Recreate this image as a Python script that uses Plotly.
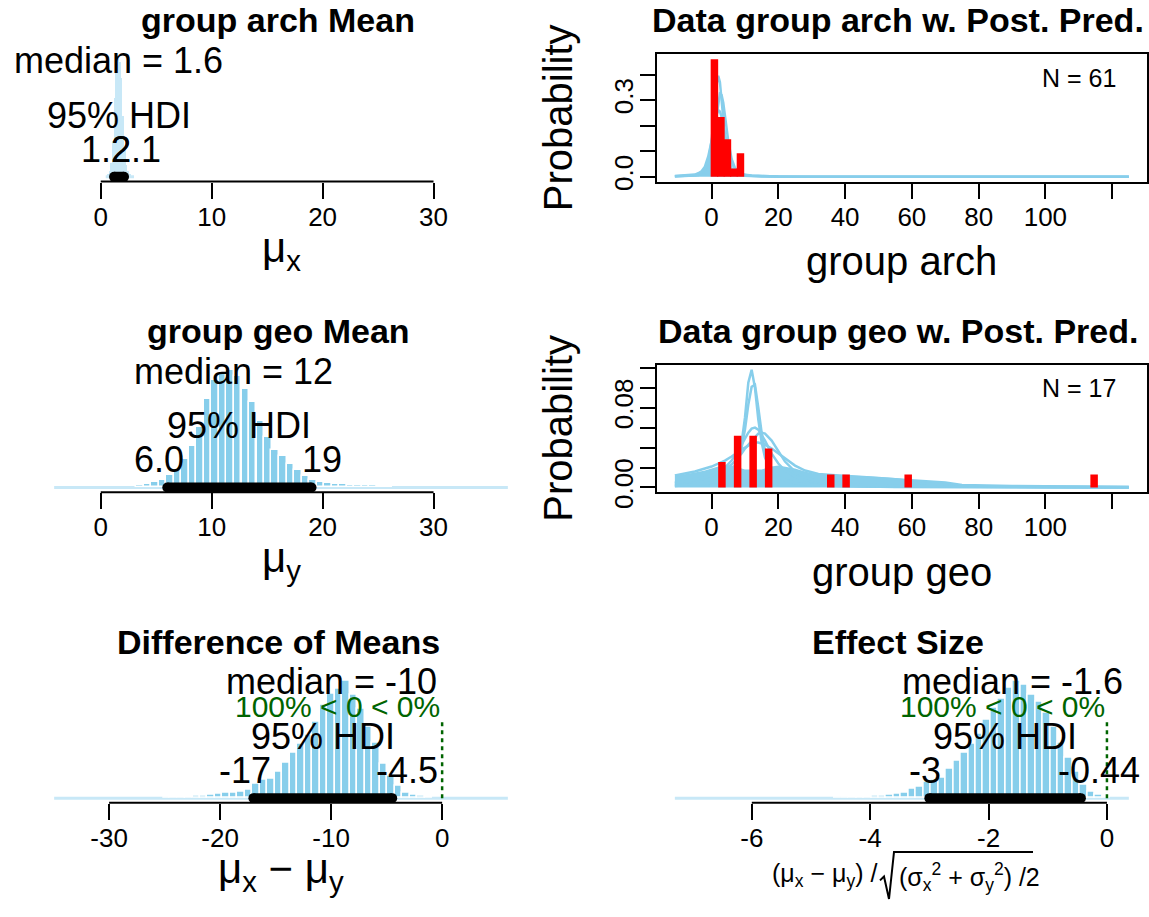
import plotly.graph_objects as go

# ---------------------------------------------------------------- data
# Posterior of the group "arch" mean (mu_x): histogram of MCMC draws
mu_x_mids = [0.675, 0.825, 0.975, 1.125, 1.275, 1.425, 1.575, 1.725, 1.875,
             2.025, 2.175, 2.325, 2.475, 2.625]
mu_x_freq = [2, 5, 14, 36, 80, 112, 120, 117, 100, 62, 28, 12, 5, 2]
mu_x_span = [0.45, 3.0]
mu_x_median = "1.6"
mu_x_hdi = ["1.2", "2.1"]

# Posterior of the group "geo" mean (mu_y)
mu_y_mids = [3.55, 4.23, 4.90, 5.58, 6.26, 6.93, 7.61, 8.29, 8.96, 9.64,
             10.32, 11.00, 11.67, 12.35, 13.03, 13.70, 14.38, 15.06, 15.73,
             16.41, 17.09, 17.77, 18.44, 19.12, 19.80, 20.47, 21.15, 21.83,
             22.50, 23.18, 23.86, 24.54, 25.21, 25.89]
mu_y_freq = [2, 3, 5, 8, 13, 18, 28.7, 42.5, 62, 90, 110, 116, 120, 114, 100,
             87, 68, 51.5, 38.5, 32, 24, 17.5, 11.7, 8, 5.5, 4, 3.5, 3, 2.5,
             2.5, 2, 2, 1.5, 1.5]
mu_y_span = [-4.2, 36.7]
mu_y_median = "12"
mu_y_hdi = ["6.0", "19"]

# Difference of means (mu_x - mu_y)
diff_mids = [-24.85, -24.18, -23.50, -22.83, -22.15, -21.48, -20.80, -20.13,
             -19.45, -18.78, -18.10, -17.43, -16.75, -16.08, -15.40, -14.73,
             -14.05, -13.38, -12.70, -12.03, -11.35, -10.68, -10.00, -9.33,
             -8.65, -7.98, -7.30, -6.63, -5.95, -5.28, -4.60, -3.93, -3.25,
             -2.58, -1.90, -1.23]
diff_freq = [0.8, 1, 1.2, 1.5, 2, 2.5, 3, 4, 5, 5.5, 6.6, 8.3, 15, 18.3, 20,
             26.6, 36, 46, 55, 65, 78, 95, 106.6, 111.6, 120, 105, 91.6, 73,
             56.6, 35, 23, 13, 5, 3, 2, 1.5]
diff_span = [-34.95, 5.92]
diff_median = "-10"
diff_hdi = ["-17", "-4.5"]
diff_pct = ["100", "0"]

# Effect size
es_mids = [-4.549, -4.423, -4.297, -4.171, -4.045, -3.919, -3.793, -3.667,
           -3.541, -3.415, -3.289, -3.163, -3.037, -2.911, -2.785, -2.659,
           -2.533, -2.407, -2.281, -2.155, -2.029, -1.903, -1.777, -1.651,
           -1.525, -1.399, -1.273, -1.147, -1.021, -0.895, -0.769, -0.643,
           -0.517, -0.391, -0.265, -0.139, -0.013]
es_freq = [0.8, 0.8, 1, 1.2, 1.5, 2, 2.5, 3, 4, 5, 9.3, 11.7, 17, 19, 20.6,
           30, 38.3, 46, 55, 66, 80, 92, 101, 113, 120, 116, 105, 98, 86.6,
           73.3, 56.6, 41.6, 26.6, 13.3, 6.6, 3.3, 1.5]
es_span = [-7.3, 0.37]
es_median = "-1.6"
es_hdi = ["-3", "-0.44"]
es_pct = ["100", "0"]
comp_value = 0

# Posterior predictive curves and data, group arch (N = 61)
arch_x = [-11, -8, -6, -5, -4, -3, -2, -1, 0, 1, 1.5, 2, 2.5, 3, 3.5, 4, 5, 6,
          7, 8, 10, 12, 15, 20, 30, 50, 80, 125]
arch_curves = [
    [0.001, 0.002, 0.003, 0.004, 0.006, 0.011, 0.025, 0.06, 0.14, 0.29, 0.36,
     0.395, 0.37, 0.3, 0.23, 0.16, 0.07, 0.032, 0.016, 0.009, 0.004, 0.0025,
     0.0015, 0.0008, 0.0004, 0.0002, 0.0001, 0.0001],
    [0.002, 0.003, 0.004, 0.006, 0.009, 0.015, 0.03, 0.06, 0.11, 0.2, 0.25,
     0.295, 0.325, 0.32, 0.29, 0.24, 0.14, 0.07, 0.035, 0.018, 0.007, 0.004,
     0.0025, 0.0012, 0.0005, 0.0002, 0.0001, 0.0001],
    [0.003, 0.005, 0.007, 0.009, 0.014, 0.022, 0.04, 0.08, 0.14, 0.21, 0.245,
     0.26, 0.255, 0.235, 0.2, 0.165, 0.1, 0.055, 0.03, 0.018, 0.008, 0.005,
     0.003, 0.0015, 0.0007, 0.0003, 0.0002, 0.0001],
]
arch_band = [0.0015, 0.0025, 0.0035, 0.005, 0.007, 0.011, 0.024, 0.055, 0.1,
             0.18, 0.2, 0.2, 0.2, 0.19, 0.17, 0.14, 0.08, 0.04, 0.02, 0.012,
             0.005, 0.003, 0.002, 0.001, 0.0005, 0.0003, 0.0002, 0.0001]
arch_mids = [0.85, 2.8, 4.75, 6.7, 8.65]
arch_prob = [0.46, 0.234, 0.147, 0.033, 0.092]
arch_n = 61

# Posterior predictive curves and data, group geo (N = 17)
geo_x = [-11, -8, -5, -2, 0, 2, 4, 6, 8, 9, 10, 11, 12, 13, 14, 15, 16, 18,
         20, 22, 25, 28, 32, 36, 40, 45, 50, 55, 60, 65, 70, 75, 80, 90, 100,
         110, 125]
geo_curves = [
    [0.0015, 0.002, 0.0025, 0.0035, 0.0045, 0.006, 0.009, 0.015, 0.03, 0.045,
     0.07, 0.105, 0.118, 0.1, 0.068, 0.045, 0.03, 0.016, 0.0095, 0.0065,
     0.004, 0.003, 0.002, 0.0015, 0.0012, 0.001, 0.0008, 0.0006, 0.0005,
     0.0004, 0.0004, 0.0003, 0.0003, 0.0002, 0.0002, 0.0001, 0.0001],
    [0.002, 0.0025, 0.003, 0.004, 0.005, 0.007, 0.01, 0.016, 0.028, 0.04,
     0.058, 0.083, 0.101, 0.103, 0.08, 0.055, 0.037, 0.019, 0.011, 0.0075,
     0.0045, 0.003, 0.0022, 0.0017, 0.0013, 0.001, 0.0008, 0.0007, 0.0006,
     0.0005, 0.0004, 0.0004, 0.0003, 0.0003, 0.0002, 0.0002, 0.0001],
    [0.004, 0.005, 0.007, 0.009, 0.012, 0.015, 0.02, 0.027, 0.037, 0.043,
     0.049, 0.055, 0.059, 0.06, 0.058, 0.053, 0.047, 0.034, 0.024, 0.017,
     0.011, 0.0075, 0.005, 0.0038, 0.003, 0.0023, 0.0018, 0.0015, 0.0012,
     0.001, 0.0009, 0.0008, 0.0007, 0.0005, 0.0004, 0.0003, 0.0003],
    [0.005, 0.006, 0.008, 0.01, 0.012, 0.015, 0.018, 0.023, 0.03, 0.034,
     0.039, 0.043, 0.047, 0.051, 0.054, 0.055, 0.054, 0.047, 0.036, 0.026,
     0.016, 0.01, 0.0065, 0.0048, 0.0037, 0.0028, 0.0022, 0.0018, 0.0015,
     0.0012, 0.001, 0.0009, 0.0008, 0.0006, 0.0005, 0.0004, 0.0003],
    [0.012, 0.014, 0.016, 0.019, 0.021, 0.024, 0.027, 0.031, 0.036, 0.038,
     0.04, 0.042, 0.044, 0.045, 0.045, 0.044, 0.043, 0.039, 0.034, 0.029,
     0.022, 0.017, 0.0135, 0.0125, 0.0118, 0.011, 0.0095, 0.0082, 0.007,
     0.006, 0.005, 0.0025, 0.002, 0.0015, 0.0012, 0.001, 0.0008],
]
geo_band = [0.0115, 0.013, 0.015, 0.017, 0.019, 0.021, 0.022, 0.022, 0.02,
            0.019, 0.018, 0.018, 0.018, 0.018, 0.018, 0.018, 0.019, 0.021,
            0.022, 0.021, 0.019, 0.016, 0.013, 0.0125, 0.0122, 0.0115, 0.0105,
            0.0095, 0.0075, 0.006, 0.0055, 0.0025, 0.002, 0.0015, 0.0013,
            0.0011, 0.001]
geo_mids = [3.1, 7.8, 12.45, 17.1, 35.7, 40.3, 58.9, 114.6]
geo_prob = [0.0255, 0.052, 0.052, 0.039, 0.013, 0.013, 0.013, 0.013]
geo_n = 17

# axis ticks
mu_ticks = [0, 10, 20, 30]
diff_ticks = [-30, -20, -10, 0]
es_ticks = [-6, -4, -2, 0]
pp_ticks = [0, 20, 40, 60, 80, 100, 120]
pp_ticklabels = ["0", "20", "40", "60", "80", "100", ""]
arch_yticks = [0, 0.1, 0.2, 0.3, 0.4]
arch_yticklabels = ["0.0", "", "", "0.3", ""]
geo_yticks = [0, 0.02, 0.04, 0.06, 0.08, 0.10, 0.12]
geo_yticklabels = ["0.00", "", "", "", "0.08", "", ""]

# ---------------------------------------------------------------- styling
W, H = 1149, 917
FONT = "Liberation Sans"
SKY = "#87CEEB"
PALE = "#c8e8f7"
GREEN = "#006400"
ASC, DESC = 0.905, 0.212

LEFT = (36, 526)          # plot region, pixels
RIGHT = (656.7, 1147)
ROW_B = (185, 501.5, 818)  # bottom edge of each row's plot region
PANEL_H = 129.5
TITLE_X = (278, 898)

CHAR_W = {"0": .556, "1": .556, "2": .556, "3": .556, "4": .556, "5": .556,
          "6": .556, "7": .556, "8": .556, "9": .556, ".": .278, "-": .333}


def px(x):
    return x / W


def py(y):
    return 1 - y / H


def text_w(s, size):
    return sum(CHAR_W.get(c, .556) for c in s) * size


def label(text, x, baseline, size, xref="paper", xanchor="center",
          color="black", xshift=0, top=False, angle=0):
    if xref == "paper":
        x = px(x)
    if top:
        y, yanchor = baseline - ASC * size, "top"
    else:
        y, yanchor = baseline - (ASC - DESC) / 2 * size, "middle"
    return dict(text=text, x=x, xref=xref, y=py(y), yref="paper",
                xanchor=xanchor, yanchor=yanchor, showarrow=False,
                xshift=xshift, textangle=angle,
                font=dict(family=FONT, size=size, color=color))


def padded(lo, hi, f=0.04):
    d = hi - lo
    return [lo - f * d, hi + f * d]


fig = go.Figure()
axes = {}
annotations = []
shapes = []


def ids(i):
    return ("x", "y") if i == 1 else (f"x{i}", f"y{i}")


def key(a, i):
    return f"{a}axis" if i == 1 else f"{a}axis{i}"


TICKFONT = dict(family=FONT, size=26, color="black")


def hist_panel(i, col, row, mids, freq, span, xlim, ticks, median, hdi,
               title, xlab, pale_bars=False, pct=None):
    xa, ya = ids(i)
    B = ROW_B[row]
    x0, x1 = (LEFT, RIGHT)[col]
    M = max(freq)
    width = round((mids[-1] - mids[0]) / (len(mids) - 1), 4)

    shapes.append(dict(type="line", xref=xa, yref=ya, x0=span[0], x1=span[1],
                       y0=0, y1=0, layer="below",
                       line=dict(color=PALE, width=3)))
    if pale_bars:
        marker = dict(color=PALE, line=dict(width=0))
    else:
        marker = dict(color=SKY, line=dict(color="white", width=1.5))
    fig.add_trace(go.Bar(x=mids, y=freq, width=width, marker=marker,
                         xaxis=xa, yaxis=ya))
    lo, hi = float(hdi[0]), float(hdi[1])
    fig.add_trace(go.Scatter(x=[lo, hi], y=[0, 0], mode="lines+markers",
                             line=dict(color="black", width=10),
                             marker=dict(color="black", size=10),
                             xaxis=xa, yaxis=ya))
    if pct is not None:
        fig.add_trace(go.Scatter(x=[comp_value, comp_value],
                                 y=[0, 0.96 * 0.7 * M], mode="lines",
                                 line=dict(color=GREEN, width=2.5,
                                           dash="4px,4px"),
                                 xaxis=xa, yaxis=ya))
        annotations.append(label(f"{pct[0]}% < {comp_value} < {pct[1]}%",
                                 comp_value, B - 88, 30, xref=xa,
                                 xanchor="right", color=GREEN))

    axes[key("x", i)] = dict(domain=[px(x0), px(x1)], range=padded(*xlim),
                             anchor=ya, tickvals=ticks,
                             ticktext=[str(t) for t in ticks],
                             ticks="outside", ticklen=16, tickwidth=2,
                             tickcolor="black", showline=False,
                             showgrid=False, zeroline=False,
                             tickfont=TICKFONT, ticklabelstandoff=-4)
    axes[key("y", i)] = dict(domain=[py(B), py(B - PANEL_H)],
                             range=[-0.04 * M, 1.04 * M], anchor=xa,
                             visible=False)
    shapes.append(dict(type="line", xref=xa, yref=f"{ya} domain",
                       x0=ticks[0], x1=ticks[-1], y0=0, y1=0,
                       line=dict(color="black", width=2)))

    annotations.append(label(f"<b>{title}</b>", TITLE_X[col], B - 152.5, 34))
    annotations.append(label(f"median = {median}", float(median), B - 111,
                             36, xref=xa))
    annotations.append(label("95% HDI", (lo + hi) / 2, B - 55, 36, xref=xa))
    annotations.append(label(hdi[0], lo, B - 20.5, 36, xref=xa,
                             xanchor="left",
                             xshift=-0.7 * text_w(hdi[0], 36)))
    annotations.append(label(hdi[1], hi, B - 20.5, 36, xref=xa,
                             xanchor="left",
                             xshift=-0.3 * text_w(hdi[1], 36)))
    if xlab is not None:
        annotations.append(label(xlab, (x0 + x1) / 2, B + 79, 42, top=True))


def pp_panel(i, row, xs, curves, band, mids, prob, n, title, xlab,
             yticks, yticklabels):
    xa, ya = ids(i)
    B = ROW_B[row]
    M = max(max(prob), max(max(c) for c in curves))
    fig.add_trace(go.Scatter(x=xs, y=band, mode="lines", fill="tozeroy",
                             fillcolor=SKY, line=dict(width=0, color=SKY),
                             xaxis=xa, yaxis=ya))
    for c in curves:
        fig.add_trace(go.Scatter(x=xs, y=c, mode="lines",
                                 line=dict(color=SKY, width=2.5),
                                 xaxis=xa, yaxis=ya))
    sx, sy = [], []
    for m, p in zip(mids, prob):
        sx += [m, m, None]
        sy += [0, p, None]
    fig.add_trace(go.Scatter(x=sx, y=sy, mode="lines",
                             line=dict(color="red", width=7.5),
                             xaxis=xa, yaxis=ya))
    common = dict(ticks="outside", ticklen=15, tickwidth=2,
                  tickcolor="black", showline=True, linewidth=2,
                  linecolor="black", mirror=True, showgrid=False,
                  zeroline=False, tickfont=TICKFONT)
    axes[key("x", i)] = dict(domain=[px(RIGHT[0]), px(RIGHT[1])],
                             range=padded(xs[0], xs[-1]), anchor=ya,
                             tickvals=pp_ticks, ticktext=pp_ticklabels,
                             ticklabelstandoff=-4, **common)
    axes[key("y", i)] = dict(domain=[py(B), py(B - PANEL_H)],
                             range=[-0.04 * M, 1.04 * M], anchor=xa,
                             tickvals=yticks, ticktext=yticklabels,
                             tickangle=-90, ticklabelstandoff=-4, **common)
    annotations.append(label(f"<b>{title}</b>", TITLE_X[1], B - 152.5, 34))
    annotations.append(label(f"N = {n}", 1118, B - 97, 25, xanchor="right"))
    annotations.append(label(xlab, (RIGHT[0] + RIGHT[1]) / 2, B + 95, 40))
    annotations.append(label("Probability", 558, B - PANEL_H / 2 + 14, 40,
                             angle=-90))


mu_xlim = [min(mu_x_span[0], mu_y_span[0]), max(mu_x_span[1], mu_y_span[1])]

hist_panel(1, 0, 0, mu_x_mids, mu_x_freq, mu_x_span, mu_xlim, mu_ticks,
           mu_x_median, mu_x_hdi, "group arch Mean", "μ<sub>x</sub>",
           pale_bars=True)
pp_panel(2, 0, arch_x, arch_curves, arch_band, arch_mids, arch_prob, arch_n,
         "Data group arch w. Post. Pred.", "group arch", arch_yticks,
         arch_yticklabels)
hist_panel(3, 0, 1, mu_y_mids, mu_y_freq, mu_y_span, mu_xlim, mu_ticks,
           mu_y_median, mu_y_hdi, "group geo Mean", "μ<sub>y</sub>")
pp_panel(4, 1, geo_x, geo_curves, geo_band, geo_mids, geo_prob, geo_n,
         "Data group geo w. Post. Pred.", "group geo", geo_yticks,
         geo_yticklabels)
hist_panel(5, 0, 2, diff_mids, diff_freq, diff_span, diff_span, diff_ticks,
           diff_median, diff_hdi, "Difference of Means",
           "μ<sub>x</sub> − μ<sub>y</sub>", pct=diff_pct)
hist_panel(6, 1, 2, es_mids, es_freq, es_span, es_span, es_ticks,
           es_median, es_hdi, "Effect Size", None, pct=es_pct)

# effect-size axis label: (mu_x - mu_y) / sqrt((sx^2 + sy^2) / 2)
B3 = ROW_B[2]
annotations.append(label("(μ<sub>x</sub> − μ<sub>y</sub>) /", 879, B3 + 78,
                         25, xanchor="right", top=True))
annotations.append(label("(σ<sub>x</sub><sup>2</sup> + σ<sub>y</sub><sup>2</sup>) /2",
                         897, B3 + 78, 25, xanchor="left", top=True))
rad = [(880, B3 + 79), (884, B3 + 75), (889, B3 + 98), (894, B3 + 50),
       (1033, B3 + 50)]
path = "M " + " L ".join(f"{px(a):.5f},{py(b):.5f}" for a, b in rad)
shapes.append(dict(type="path", xref="paper", yref="paper", path=path,
                   line=dict(color="black", width=2)))

fig.update_layout(
    width=W, height=H, margin=dict(l=0, r=0, t=0, b=0),
    paper_bgcolor="white", plot_bgcolor="white", showlegend=False,
    bargap=0, annotations=annotations, shapes=shapes,
    font=dict(family=FONT, color="black"), **axes)

fig.write_html("out.html")
